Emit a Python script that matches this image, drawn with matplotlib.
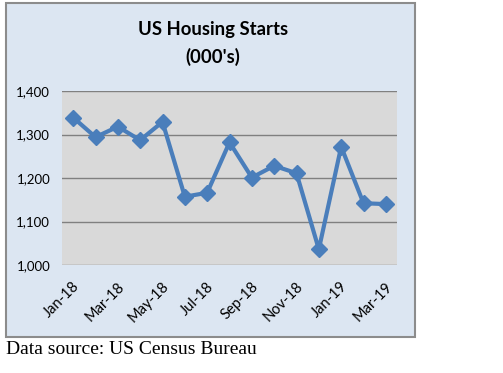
import matplotlib
matplotlib.use("Agg")
import matplotlib.pyplot as plt
import matplotlib.transforms as mtransforms
from matplotlib.patches import Rectangle

months = ["Jan-18", "Feb-18", "Mar-18", "Apr-18", "May-18", "Jun-18", "Jul-18",
          "Aug-18", "Sep-18", "Oct-18", "Nov-18", "Dec-18", "Jan-19", "Feb-19", "Mar-19"]
starts = [1339, 1294, 1318, 1287, 1329, 1157, 1166, 1282, 1201, 1228, 1211, 1036, 1272, 1142, 1140]
yticks = [1000, 1100, 1200, 1300, 1400]
ytick_labels = ["1,000", "1,100", "1,200", "1,300", "1,400"]

W, H = 503, 373
fig = plt.figure(figsize=(W / 100, H / 100), dpi=100)
fig.patch.set_facecolor("white")

# chart box
fig.patches.append(Rectangle((6 / W, 1 - 337 / H), 409 / W, 334 / H,
                             transform=fig.transFigure, facecolor="#DCE6F2",
                             edgecolor="#8C8C8C", linewidth=1.5, zorder=-5))

ax = fig.add_axes([62 / W, 1 - 265 / H, 335 / W, 174 / H])
ax.set_zorder(2)
ax.set_facecolor("#D9D9D9")
x = list(range(len(months)))
ax.plot(x, starts, color="#4A7EBB", linewidth=3, marker="D", markersize=8,
        markerfacecolor="#4A7EBB", markeredgecolor="#4A7EBB", zorder=3, clip_on=False)
ax.set_xlim(-0.5, len(months) - 0.5)
ax.set_ylim(1000, 1400)
ax.set_yticks(yticks)
ax.set_yticklabels(ytick_labels, fontfamily="Lato", fontsize=9.5)
ax.yaxis.grid(True, color="#808080", linewidth=1)
ax.set_axisbelow(True)
for s in ax.spines.values():
    s.set_visible(False)
ax.tick_params(axis="both", length=0)
ax.tick_params(axis="y", pad=8.5)
ax.tick_params(axis="x", pad=14)
ax.set_xticks(x[::2])
ax.set_xticklabels(months[::2], rotation=45, ha="right", va="center",
                   rotation_mode="anchor", fontfamily="Lato", fontsize=10.5)
offset = mtransforms.ScaledTranslation(4 / 100, 0, fig.dpi_scale_trans)
for lab in ax.get_xticklabels():
    lab.set_transform(lab.get_transform() + offset)

fig.text(213 / W, 1 - 30 / H, "US Housing Starts", ha="center", va="center",
         fontfamily="Lato", fontweight="bold", fontsize=13.3)
fig.text(213 / W, 1 - 57 / H, "(000's)", ha="center", va="center",
         fontfamily="Lato", fontweight="bold", fontsize=13.3)

fig.text(6 / W, 1 - 350 / H, "Data source: US Census Bureau", ha="left", va="center",
         fontfamily="Liberation Serif", fontsize=14)

fig.savefig("out.png", dpi=100)
